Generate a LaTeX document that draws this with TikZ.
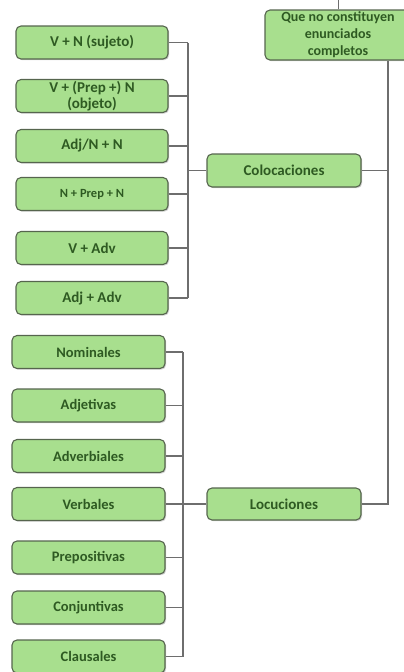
\documentclass[tikz,border=0pt]{standalone}
\usepackage{fontspec}
\setmainfont{Carlito}
\usetikzlibrary{shadows}
\definecolor{boxfill}{HTML}{A8DF8E}
\definecolor{boxedge}{HTML}{56654E}
\definecolor{boxtext}{HTML}{2E5A22}
\definecolor{wire}{HTML}{6E6E6E}
\tikzset{
  leaf/.style={draw=boxedge, line width=1.1pt, fill=boxfill, rounded corners=5pt,
    minimum width=152pt, minimum height=33pt, align=center, inner sep=1pt,
    font=\bfseries\fontsize{15}{16.5}\selectfont, text=boxtext,
    drop shadow={shadow xshift=1.2pt, shadow yshift=-1.2pt, fill=black!35, opacity=0.5}},
  hub/.style={leaf, minimum width=154pt},
  link/.style={draw=wire, line width=1.1pt}
}
\begin{document}
\begin{tikzpicture}[x=1pt, y=-1pt]
\useasboundingbox (0,0) rectangle (404,672);

% root
\node[leaf, minimum width=146pt, minimum height=50pt, inner sep=0pt,
      font=\bfseries\fontsize{14}{17}\selectfont] (top) at (338,35)
  {Que no constituyen\\enunciados\\completos};

% second level
\node[hub] (coloc) at (284,170.5) {Colocaciones};
\node[hub, minimum height=32pt] (loc) at (284,504) {Locuciones};

% collocation patterns
\node[leaf] (vn)     at (92,42.5) {V + N (sujeto)};
\node[leaf] (vpn)    at (92,96) {V + (Prep +) N\\(objeto)};
\node[leaf] (adjn)   at (92,146) {Adj/N + N};
\node[leaf, font=\bfseries\fontsize{12.5}{14}\selectfont] (npn) at (92,194) {N + Prep + N};
\node[leaf] (vadv)   at (92,248) {V + Adv};
\node[leaf] (adjadv) at (92,298) {Adj + Adv};

% locution types
\tikzset{kind/.style={leaf, minimum width=153pt, font=\bfseries\fontsize{14.5}{16}\selectfont}}
\node[kind] (nom)   at (88.5,352) {Nominales};
\node[kind] (adjt)  at (88.5,405.5) {Adjetivas};
\node[kind] (advb)  at (88.5,456) {Adverbiales};
\node[kind] (verb)  at (88.5,504) {Verbales};
\node[kind] (prep)  at (88.5,557.5) {Prepositivas};
\node[kind] (conj)  at (88.5,607.5) {Conjuntivas};
\node[kind] (claus) at (88.5,656.5) {Clausales};

% bus positions
\coordinate (cbus) at (188,0);
\coordinate (lbus) at (183,0);
\coordinate (rbus) at (388,0);
\coordinate (tick) at (338,0);

% collocation bus
\foreach \n in {vn,vpn,adjn,npn,vadv,adjadv}
  \draw[link] (\n.east) -- (\n.east -| cbus);
\draw[link] (vn.east -| cbus) -- (adjadv.east -| cbus);
\draw[link] (coloc.west) -- (coloc.west -| cbus);

% locution bus
\foreach \n in {nom,adjt,advb,verb,prep,conj,claus}
  \draw[link] (\n.east) -- (\n.east -| lbus);
\draw[link] (nom.east -| lbus) -- (claus.east -| lbus);
\draw[link] (loc.west) -- (loc.west -| lbus);

% root bus
\draw[link] (top.south -| rbus) -- (loc.east -| rbus) -- (loc.east);
\draw[link] (coloc.east) -- (coloc.east -| rbus);
\draw[link, line width=0.8pt] (top.north) -- (tick);
\end{tikzpicture}
\end{document}
